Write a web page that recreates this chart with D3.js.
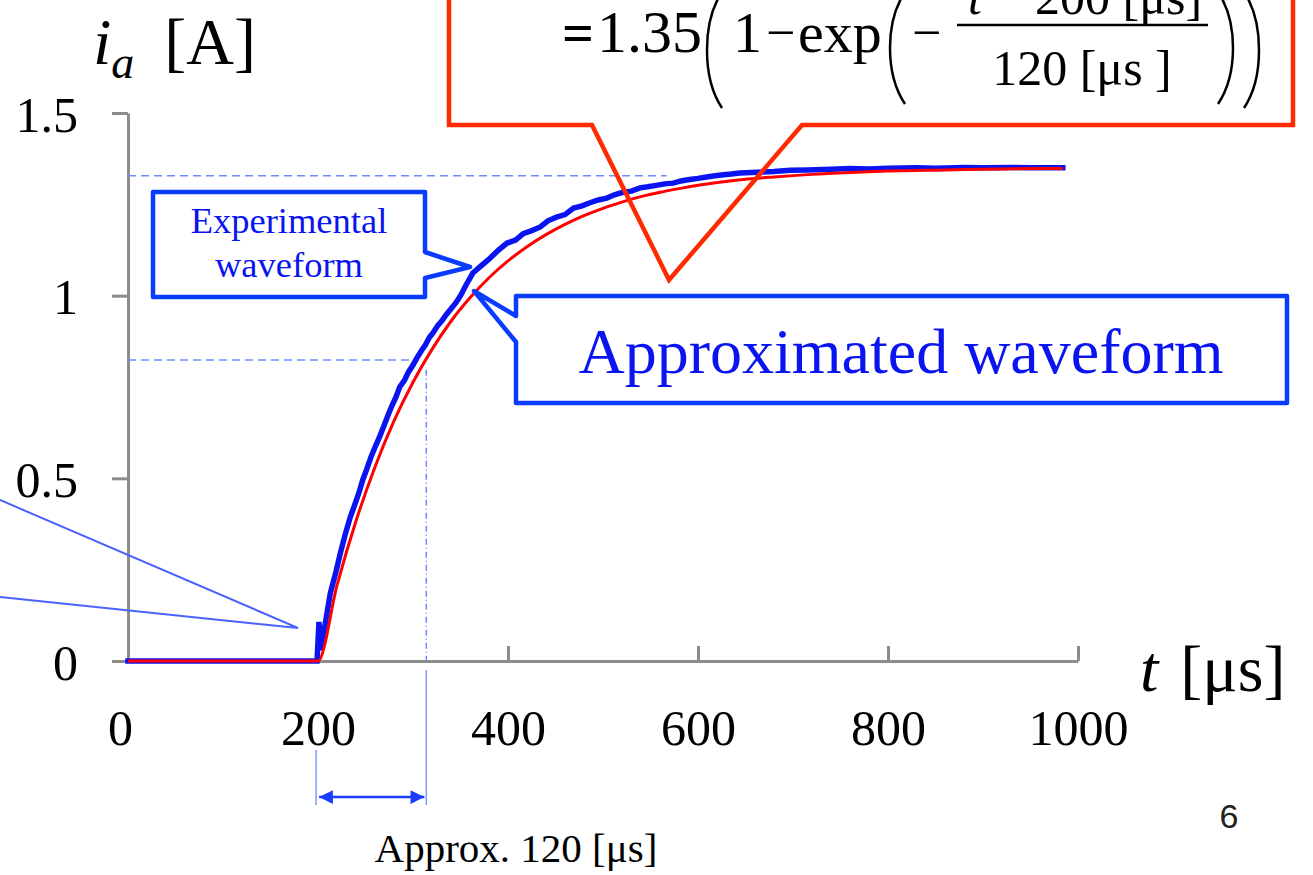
<!DOCTYPE html>
<html>
<head>
<meta charset="utf-8">
<script src="https://cdn.jsdelivr.net/npm/d3@7"></script>
<style>
  body { margin: 0; background: #fff; }
  svg { display: block; }
  text { font-family: "Liberation Serif", "Times New Roman", serif; }
</style>
</head>
<body>
<div id="chart"></div>
<script>
// time [us] and current [A]
const expTime = [0, 199, 201, 203, 213, 219, 224, 229, 234, 239, 243, 247, 251, 256, 260, 265, 269, 274, 278, 282, 286, 291, 295, 300, 304, 309,
  313, 317, 321, 326, 330, 335, 339, 345, 350, 356, 363, 371, 380, 390, 399, 408, 416, 425, 434, 442, 451, 460, 469, 478, 487, 495, 504, 512, 521,
  530, 539, 547, 556, 565, 574, 582, 591, 600, 609, 618, 627, 635, 644, 662, 680, 697, 715, 740, 760, 780, 800, 830, 850, 880, 900, 930, 950, 984];
const expCurrent = [0, 0, 0.107, 0.03, 0.186, 0.245, 0.30, 0.35, 0.394, 0.43, 0.46, 0.495, 0.523, 0.56, 0.585, 0.615, 0.641, 0.675, 0.70, 0.722, 0.75, 0.768, 0.79, 0.81, 0.829, 0.85,
  0.865, 0.885, 0.898, 0.918, 0.93, 0.948, 0.961, 0.98, 1.0, 1.03, 1.062, 1.08, 1.10, 1.125, 1.144, 1.152, 1.17, 1.178, 1.188, 1.205, 1.215, 1.222, 1.24, 1.246, 1.255, 1.262, 1.267, 1.276, 1.283,
  1.286, 1.295, 1.298, 1.302, 1.306, 1.308, 1.314, 1.318, 1.321, 1.325, 1.328, 1.331, 1.333, 1.336, 1.338, 1.34, 1.343, 1.344,
  1.346, 1.348, 1.347, 1.349, 1.35, 1.349, 1.351, 1.35, 1.351, 1.35, 1.35];

const approxTime = [0, 200, 220, 240, 260, 280, 300, 320, 340, 360, 380, 400, 420, 440, 460, 480, 500, 520, 540, 560,
  580, 600, 640, 680, 720, 760, 800, 860, 920, 984];
const approxCurrent = [0, 0, 0.207, 0.383, 0.531, 0.657, 0.763, 0.853, 0.930, 0.994, 1.049, 1.095, 1.134, 1.167, 1.195, 1.219, 1.239, 1.256, 1.271, 1.283,
  1.293, 1.302, 1.316, 1.325, 1.332, 1.337, 1.341, 1.344, 1.347, 1.348];

const tTicks = [0, 200, 400, 600, 800, 1000];
const iTicks = [0, 0.5, 1, 1.5];

// dashed guides: 63% level, final level, and time constant
const finalLevel = 1.328, finalLevelEnd = 567;
const tauLevel = 0.824, tauLevelEnd = 300;
const tauTime = 314, tauTop = 0.797;
const stepTime = 198;

const width = 1313, height = 875;
const svg = d3.select('#chart').append('svg')
  .attr('width', width)
  .attr('height', height);

const x = d3.scaleLinear().domain([0, 1000]).range([128, 1078]);
const y = d3.scaleLinear().domain([0, 1.5]).range([661, 113]);

const axisGrey = '#8c8c8c';

// y axis
const yAxis = svg.append('g')
  .attr('transform', `translate(${x(0)},0)`)
  .call(d3.axisLeft(y).tickValues(iTicks).tickSizeInner(16).tickSizeOuter(0).tickPadding(34)
    .tickFormat(d3.format('')));
yAxis.select('.domain').attr('stroke', axisGrey).attr('stroke-width', 3);
yAxis.selectAll('.tick line').attr('stroke', axisGrey).attr('stroke-width', 3);
yAxis.selectAll('.tick text')
  .style('font-size', '50px')
  .attr('fill', '#000')
  .attr('dy', '0.36em');

// x axis, ticks pointing up
const xAxis = svg.append('g')
  .attr('transform', `translate(0,${y(0)})`)
  .call(d3.axisBottom(x).tickValues(tTicks).tickSizeInner(-15).tickSizeOuter(0).tickFormat(d3.format('')));
xAxis.select('.domain').attr('stroke', axisGrey).attr('stroke-width', 3);
xAxis.selectAll('.tick line').attr('stroke', axisGrey).attr('stroke-width', 3)
  .attr('opacity', d => d === 0 ? 0 : 1);
xAxis.selectAll('.tick text')
  .style('font-size', '50px')
  .attr('fill', '#000')
  .attr('y', 84)
  .attr('dy', 0)
  .attr('dx', d => d === 0 ? -8 : 0);

// dashed guides
const guide = svg.append('g')
  .attr('stroke', '#6f8cff')
  .attr('stroke-width', 1.5)
  .attr('stroke-dasharray', '8,5')
  .attr('fill', 'none');
guide.append('line')
  .attr('x1', x(0)).attr('x2', x(finalLevelEnd))
  .attr('y1', y(finalLevel)).attr('y2', y(finalLevel));
guide.append('line')
  .attr('x1', x(0)).attr('x2', x(tauLevelEnd))
  .attr('y1', y(tauLevel)).attr('y2', y(tauLevel));
guide.append('line')
  .attr('x1', x(tauTime)).attr('x2', x(tauTime))
  .attr('y1', y(tauTop)).attr('y2', y(0))
  .attr('stroke-dasharray', '6,3,1,3');

// curves
const line = d3.line()
  .x(d => x(d[0]))
  .y(d => y(d[1]));

svg.append('path')
  .datum(d3.zip(expTime, expCurrent))
  .attr('d', line)
  .attr('fill', 'none')
  .attr('stroke', '#0a14f0')
  .attr('stroke-width', 5.5)
  .attr('stroke-linejoin', 'miter')
  .attr('stroke-linecap', 'square');

svg.append('path')
  .datum(d3.zip(approxTime, approxCurrent))
  .attr('d', line.curve(d3.curveMonotoneX))
  .attr('fill', 'none')
  .attr('stroke', '#ff0000')
  .attr('stroke-width', 3);

// axis titles
const yTitle = svg.append('text').attr('x', 93).attr('y', 64).style('font-size', '66px');
yTitle.append('tspan').attr('font-style', 'italic').text('i');
yTitle.append('tspan').attr('font-style', 'italic').style('font-size', '46px').attr('dy', 14).text('a');
yTitle.append('tspan').attr('dy', -14).attr('dx', 30).text('[A]');

const xTitle = svg.append('text').attr('x', 1140).attr('y', 691).style('font-size', '66px');
xTitle.append('tspan').attr('font-style', 'italic').text('t');
xTitle.append('tspan').attr('dx', 22).text('[μs]');

// time constant marker below axis
const marker = svg.append('g').attr('stroke', '#7d96ff').attr('stroke-width', 1.5);
marker.append('line').attr('x1', x(stepTime)).attr('x2', x(stepTime)).attr('y1', 750).attr('y2', 805);
marker.append('line').attr('x1', x(tauTime)).attr('x2', x(tauTime)).attr('y1', 670).attr('y2', 805);

const defs = svg.append('defs');
defs.append('marker')
  .attr('id', 'arr')
  .attr('viewBox', '0 0 10 10')
  .attr('refX', 10).attr('refY', 5)
  .attr('markerWidth', 6).attr('markerHeight', 5.5)
  .attr('orient', 'auto-start-reverse')
  .attr('markerUnits', 'strokeWidth')
  .append('path').attr('d', 'M0,0 L10,5 L0,10 Z').attr('fill', '#1a3cff');
svg.append('line')
  .attr('x1', x(stepTime) + 3).attr('x2', x(tauTime) - 2)
  .attr('y1', 797).attr('y2', 797)
  .attr('stroke', '#1a3cff').attr('stroke-width', 2.5)
  .attr('marker-start', 'url(#arr)').attr('marker-end', 'url(#arr)');

svg.append('text')
  .attr('x', 516).attr('y', 862)
  .attr('text-anchor', 'middle')
  .style('font-size', '41px')
  .text('Approx. 120 [μs]');

// callout pointing at the step (box is off the slide crop)
svg.append('path')
  .attr('d', 'M0,500 L298,628 L0,597')
  .attr('fill', 'none')
  .attr('stroke', '#4a62ff')
  .attr('stroke-width', 2);

// Experimental waveform callout
svg.append('path')
  .attr('d', 'M153,192 H425 V252 L470,267 L425,278 V297 H153 Z')
  .attr('fill', '#fff')
  .attr('stroke', '#0a3cff')
  .attr('stroke-width', 4.5)
  .attr('stroke-linejoin', 'round');
svg.append('text')
  .attr('x', 289).attr('y', 233)
  .attr('text-anchor', 'middle')
  .style('font-size', '36.5px')
  .attr('fill', '#0a14f0')
  .text('Experimental');
svg.append('text')
  .attr('x', 289).attr('y', 277)
  .attr('text-anchor', 'middle')
  .style('font-size', '36.5px')
  .attr('fill', '#0a14f0')
  .text('waveform');

// Approximated waveform callout
svg.append('path')
  .attr('d', 'M516,296 H1287 V403 H516 V342 L474,291 L516,316 Z')
  .attr('fill', '#fff')
  .attr('stroke', '#0a3cff')
  .attr('stroke-width', 4.5)
  .attr('stroke-linejoin', 'round');
svg.append('text')
  .attr('x', 901).attr('y', 373)
  .attr('text-anchor', 'middle')
  .style('font-size', '64px')
  .attr('fill', '#0a14f0')
  .text('Approximated waveform');

// formula callout (top cut off)
svg.append('path')
  .attr('d', 'M449,-10 V125 H592 L669,280 L802,125 H1293 V-10')
  .attr('fill', 'none')
  .attr('stroke', '#ff2a00')
  .attr('stroke-width', 4.5);

const formula = svg.append('g').attr('fill', '#000');
const ftext = (xx, yy, size, s) => formula.append('text').attr('x', xx).attr('y', yy).style('font-size', size + 'px').text(s);
ftext(562, 52, 56, '=').attr('font-weight', 'bold');
ftext(597, 52, 60, '1.35');
ftext(733, 52, 58, '1');
ftext(766, 50, 52, '−');
ftext(798, 52, 58, 'exp');
ftext(912, 50, 52, '−');
formula.append('line').attr('x1', 957).attr('x2', 1208).attr('y1', 25).attr('y2', 25)
  .attr('stroke', '#000').attr('stroke-width', 2.5);
const num = formula.append('text').attr('x', 1085).attr('y', 14).style('font-size', '50px').attr('text-anchor', 'middle');
num.append('tspan').attr('font-style', 'italic').text('t');
num.append('tspan').text(' − 200 [μs]');
formula.append('text').attr('x', 1082).attr('y', 85).style('font-size', '50px').attr('text-anchor', 'middle').text('120 [μs ]');

// big parentheses
const paren = (x0, top, bot, dir) =>
  `M${x0},${top} C${x0 - dir * 20},${top + 30} ${x0 - dir * 20},${bot - 30} ${x0},${bot}`;
[[722, -8, 108, 1], [905, -8, 104, 1], [1218, -8, 104, -1], [1244, -8, 108, -1]].forEach(p => {
  formula.append('path')
    .attr('d', paren(p[0], p[1], p[2], p[3]))
    .attr('fill', 'none')
    .attr('stroke', '#000')
    .attr('stroke-width', 2.5);
});

// slide number
svg.append('text')
  .attr('x', 1229).attr('y', 828)
  .attr('text-anchor', 'middle')
  .style('font-size', '34px')
  .style('font-family', '"Liberation Sans", Arial, sans-serif')
  .attr('fill', '#222')
  .text('6');
</script>
</body>
</html>
